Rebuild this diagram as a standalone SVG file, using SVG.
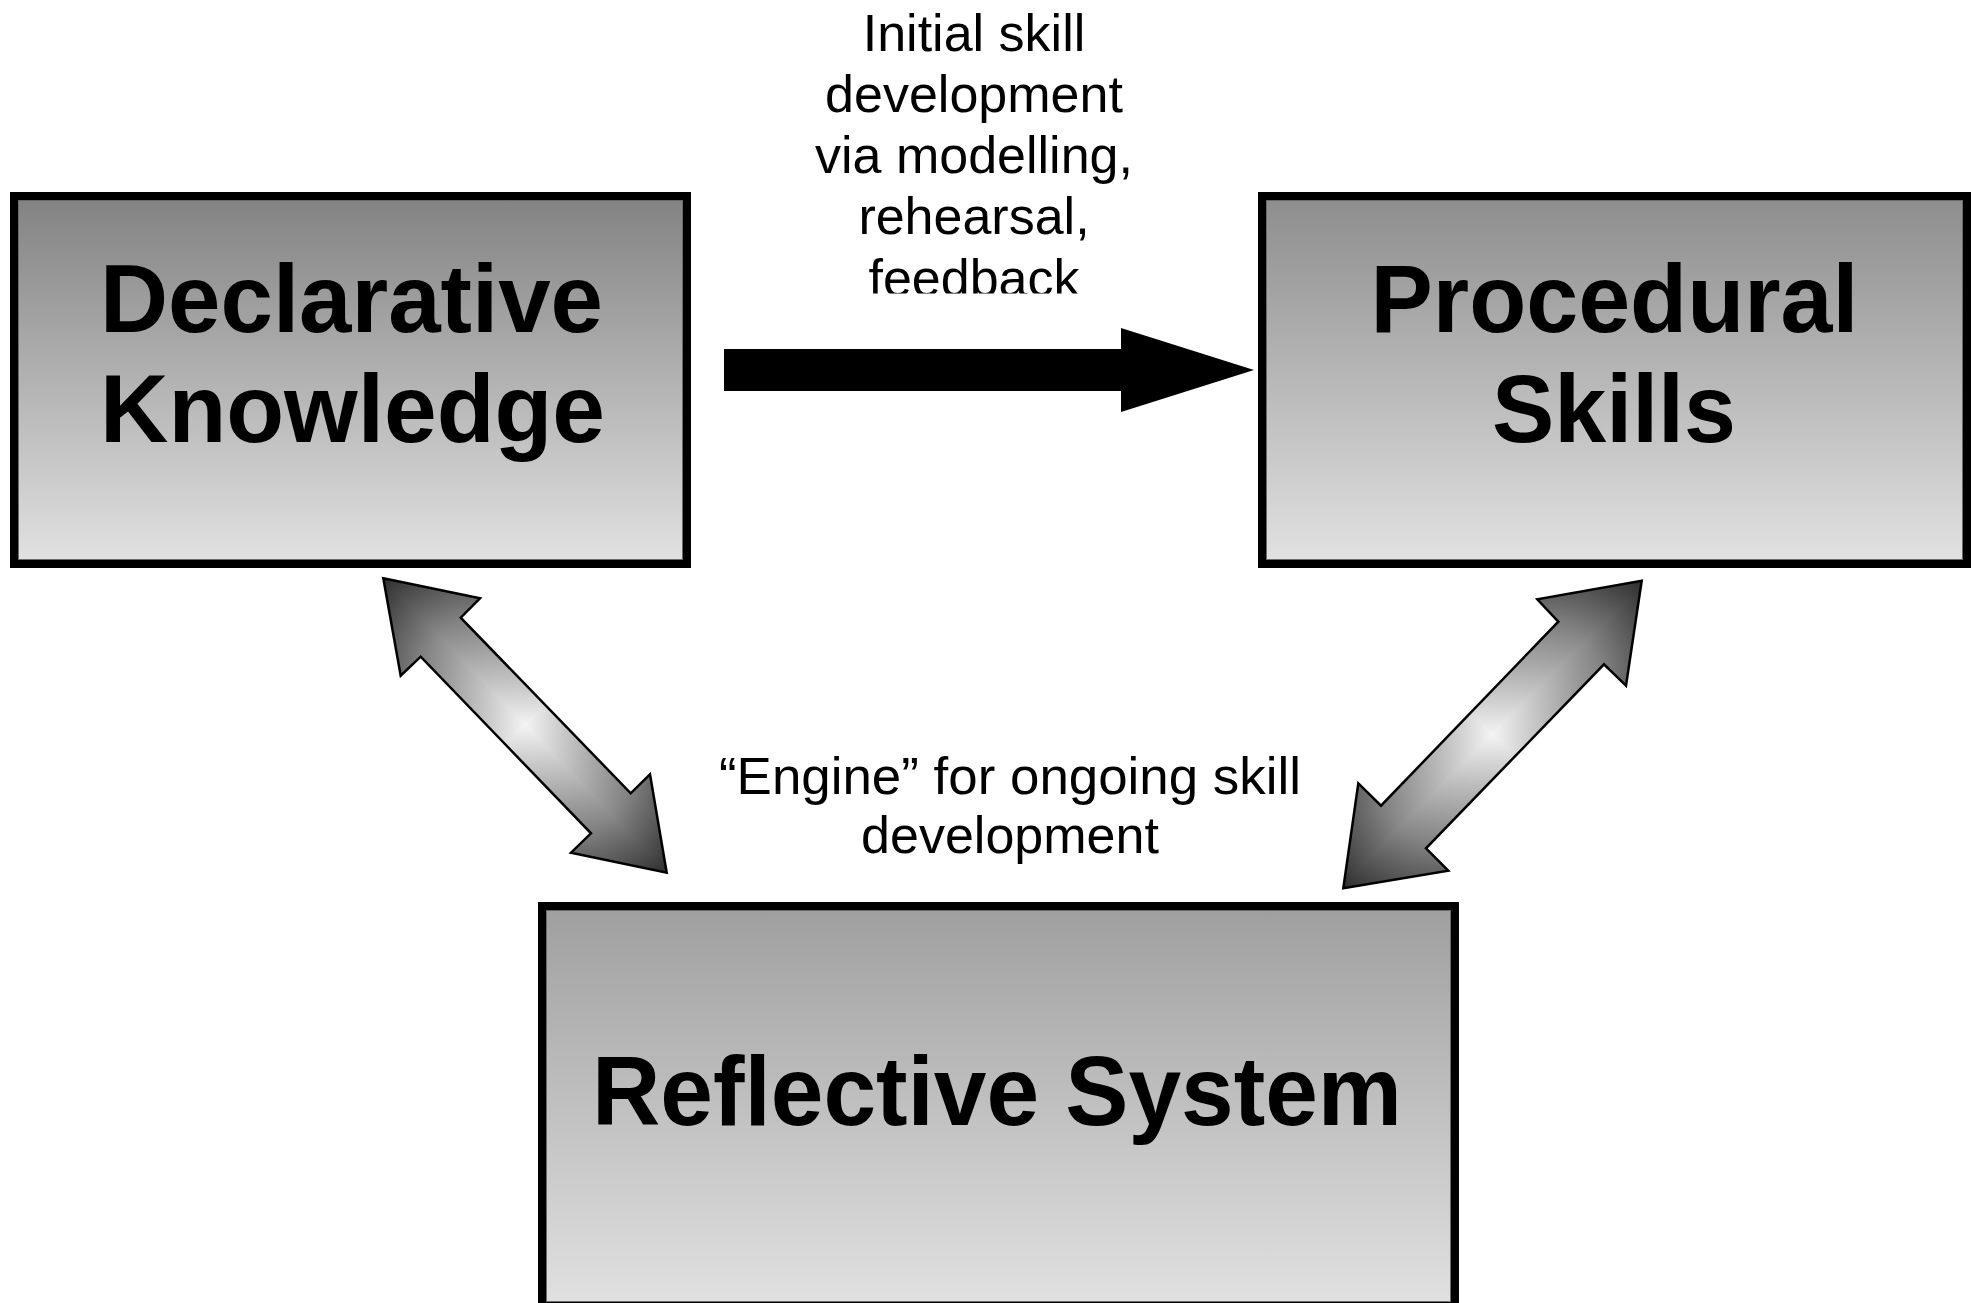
<svg xmlns="http://www.w3.org/2000/svg" width="1971" height="1303" viewBox="0 0 1971 1303">
<style>
.box{stroke:#000;stroke-width:8}
.inner{fill:none;stroke:#6a6a6a;stroke-width:1}
.title{font-family:"Liberation Sans",Arial,Helvetica,sans-serif;font-weight:bold;fill:#000;text-anchor:middle}
.lbl{font-family:"Liberation Sans",Arial,Helvetica,sans-serif;font-size:52px;fill:#000;text-anchor:middle}
.darr{stroke:#000;stroke-width:2.5;stroke-linejoin:miter}
</style>
<defs>
<linearGradient id="gD" x1="0" y1="0" x2="0" y2="1">
<stop offset="0" stop-color="#828282"/><stop offset="1" stop-color="#e2e2e2"/>
</linearGradient>
<linearGradient id="gP" x1="0" y1="0" x2="0" y2="1">
<stop offset="0" stop-color="#8d8d8d"/><stop offset="1" stop-color="#e2e2e2"/>
</linearGradient>
<linearGradient id="gR" x1="0" y1="0" x2="0" y2="1">
<stop offset="0" stop-color="#9f9f9f"/><stop offset="1" stop-color="#e1e1e1"/>
</linearGradient>
<linearGradient id="aL" gradientUnits="userSpaceOnUse" x1="383" y1="578" x2="667" y2="873">
<stop offset="0" stop-color="#2e2e2e"/><stop offset="0.2" stop-color="#8c8c8c"/><stop offset="0.5" stop-color="#f4f4f4"/><stop offset="0.8" stop-color="#8c8c8c"/><stop offset="1" stop-color="#2e2e2e"/>
</linearGradient>
<linearGradient id="aLp" gradientUnits="userSpaceOnUse" x1="471" y1="777" x2="579" y2="673">
<stop offset="0" stop-color="#000" stop-opacity="0.35"/><stop offset="0.3" stop-color="#000" stop-opacity="0.1"/><stop offset="0.5" stop-color="#000" stop-opacity="0"/><stop offset="0.7" stop-color="#000" stop-opacity="0.1"/><stop offset="1" stop-color="#000" stop-opacity="0.35"/>
</linearGradient>
<linearGradient id="aR" gradientUnits="userSpaceOnUse" x1="1642" y1="581" x2="1343" y2="888">
<stop offset="0" stop-color="#2e2e2e"/><stop offset="0.2" stop-color="#8c8c8c"/><stop offset="0.5" stop-color="#f4f4f4"/><stop offset="0.8" stop-color="#8c8c8c"/><stop offset="1" stop-color="#2e2e2e"/>
</linearGradient>
<linearGradient id="aRp" gradientUnits="userSpaceOnUse" x1="1439" y1="681" x2="1546" y2="788">
<stop offset="0" stop-color="#000" stop-opacity="0.35"/><stop offset="0.3" stop-color="#000" stop-opacity="0.1"/><stop offset="0.5" stop-color="#000" stop-opacity="0"/><stop offset="0.7" stop-color="#000" stop-opacity="0.1"/><stop offset="1" stop-color="#000" stop-opacity="0.35"/>
</linearGradient>
<clipPath id="topclip"><rect x="0" y="0" width="1971" height="293.5"/></clipPath>
</defs>

<g id="node-declarative">
<rect class="box" x="14" y="196" width="673" height="368" fill="url(#gD)"/>
<rect class="inner" x="18.5" y="200.5" width="664" height="359"/>
<text class="title" font-size="97" x="351.5" y="332" textLength="503" lengthAdjust="spacingAndGlyphs">Declarative</text>
<text class="title" font-size="97" x="352.5" y="442" textLength="505" lengthAdjust="spacingAndGlyphs">Knowledge</text>
</g>

<g id="node-procedural">
<rect class="box" x="1262" y="196" width="705" height="368" fill="url(#gP)"/>
<rect class="inner" x="1266.5" y="200.5" width="696" height="359"/>
<text class="title" font-size="97" x="1614.5" y="332" textLength="488" lengthAdjust="spacingAndGlyphs">Procedural</text>
<text class="title" font-size="97" x="1614" y="442" textLength="244" lengthAdjust="spacingAndGlyphs">Skills</text>
</g>

<g id="node-reflective">
<rect class="box" x="542" y="906" width="913" height="400" fill="url(#gR)"/>
<rect class="inner" x="546.5" y="910.5" width="904" height="391"/>
<text class="title" font-size="99" x="997" y="1125" textLength="810" lengthAdjust="spacingAndGlyphs">Reflective System</text>
</g>

<g id="connectors">
<polygon points="724,349 1121,349 1121,328 1254,370 1121,412 1121,391 724,391" fill="#000"/>
<g id="arrow-left">
<polygon class="darr" fill="url(#aL)" points="383.3,578.3 480,598.3 460.7,617.7 630.7,793.3 650,774.3 666.7,872.7 571,852.7 591,833.3 420.7,656.7 400.7,675.7"/>
<polygon fill="url(#aLp)" points="383.3,578.3 480,598.3 460.7,617.7 630.7,793.3 650,774.3 666.7,872.7 571,852.7 591,833.3 420.7,656.7 400.7,675.7"/>
</g>
<g id="arrow-right">
<polygon class="darr" fill="url(#aR)" points="1641.7,580.7 1626,685.7 1604,664.3 1426,848.3 1448.3,870.7 1343.3,888.3 1358.3,783.3 1381,805.7 1558.3,621.7 1537.3,599.3"/>
<polygon fill="url(#aRp)" points="1641.7,580.7 1626,685.7 1604,664.3 1426,848.3 1448.3,870.7 1343.3,888.3 1358.3,783.3 1381,805.7 1558.3,621.7 1537.3,599.3"/>
</g>
</g>

<g id="label-initial" clip-path="url(#topclip)">
<text class="lbl" x="974" y="51">Initial skill</text>
<text class="lbl" x="974" y="112">development</text>
<text class="lbl" x="974" y="173">via modelling,</text>
<text class="lbl" x="974" y="234">rehearsal,</text>
<text class="lbl" x="974" y="296">feedback</text>
</g>

<g id="label-engine">
<text class="lbl" x="1010" y="794" textLength="582" lengthAdjust="spacingAndGlyphs">“Engine” for ongoing skill</text>
<text class="lbl" x="1010" y="853">development</text>
</g>
</svg>
